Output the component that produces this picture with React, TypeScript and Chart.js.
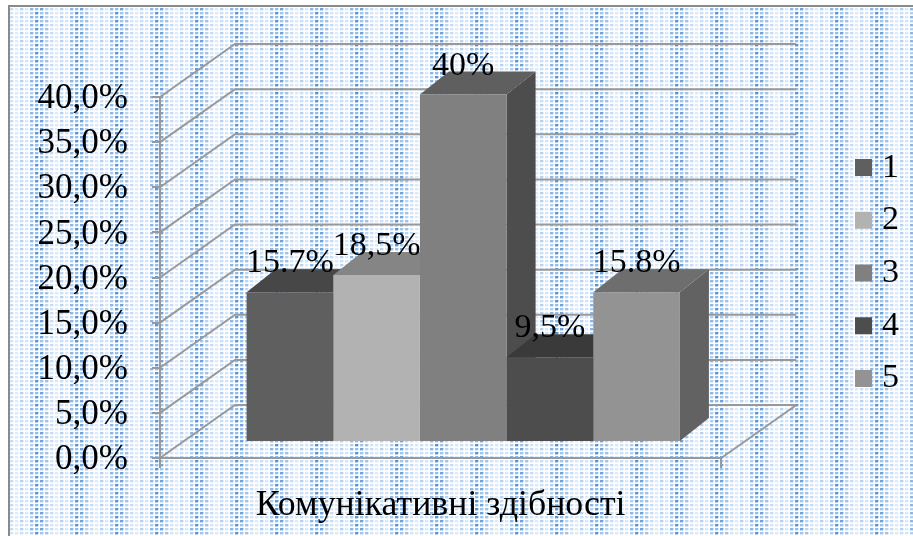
import React, { useEffect, useRef } from "react";
import { Chart, registerables } from "chart.js";

Chart.register(...registerables);

const categories = ["Комунікативні здібності"];
const seriesNames = ["1", "2", "3", "4", "5"];
const barValues = [16.6, 18.5, 38.5, 9.4, 16.6];
const dataLabels = ["15.7%", "18,5%", "40%", "9,5%", "15.8%"];
const yTickLabels = ["0,0%", "5,0%", "10,0%", "15,0%", "20,0%", "25,0%", "30,0%", "35,0%", "40,0%"];
const frontColors = ["#5f5f5f", "#b2b2b2", "#808080", "#4d4d4d", "#939393"];
const topColors = ["#474747", "#858585", "#5f5f5f", "#3a3a3a", "#6e6e6e"];
const sideColors = ["#484848", "#808080", "#4d4d4d", "#3a3a3a", "#626262"];

const FONT = '"Liberation Serif", "Times New Roman", serif';
const GRID = "#999999";
const WALL = { dx: 75, dy: -53 };
const PLANE = { dx: 22.6, dy: -16 };
const DEPTH = { dx: 29, dy: -23 };

function makeTile(): HTMLCanvasElement {
  const stripe = [0.85, 0.5, 0.2, 0.08, 0.32, 0.12, 0.62, 1];
  const tile = document.createElement("canvas");
  tile.width = 40;
  tile.height = 8;
  const c = tile.getContext("2d")!;
  c.fillStyle = "#ffffff";
  c.fillRect(0, 0, 40, 8);
  stripe.forEach((s, i) => {
    [0, 1].forEach((r) => {
      const a = Math.min(1, s * (r === (i % 2) ? 0.8 : 0.45) + 0.14);
      const rowY = r * 4;
      c.fillStyle = `rgba(74,144,217,${a})`;
      c.fillRect(i * 5, rowY, 3, 2);
      c.fillStyle = `rgba(74,144,217,${a * 0.4})`;
      c.fillRect(i * 5 + 3, rowY, 1, 2);
      c.fillRect(i * 5, rowY + 2, 3, 1);
    });
  });
  return tile;
}

function poly(ctx: CanvasRenderingContext2D, fill: string, pts: number[][]) {
  ctx.beginPath();
  pts.forEach((p, i) => (i ? ctx.lineTo(p[0], p[1]) : ctx.moveTo(p[0], p[1])));
  ctx.closePath();
  ctx.fillStyle = fill;
  ctx.fill();
}

const scene3d = {
  id: "scene3d",
  beforeDraw(chart: any) {
    const { ctx, width, height } = chart;
    ctx.save();
    ctx.fillStyle = "#ffffff";
    ctx.fillRect(0, 0, width, height);
    ctx.fillStyle = ctx.createPattern(makeTile(), "repeat");
    ctx.fillRect(8, 5, width - 8, height - 5);
    ctx.fillStyle = "#8a8a8a";
    ctx.fillRect(8, 5, width - 8, 2);
    ctx.fillRect(8, 5, 2, height - 5);
    ctx.restore();
  },
  beforeDatasetsDraw(chart: any) {
    const { ctx, chartArea: a, scales } = chart;
    const y = scales.y;
    ctx.save();
    ctx.strokeStyle = GRID;
    ctx.lineWidth = 2;
    y.ticks.forEach((t: any) => {
      const py = y.getPixelForValue(t.value);
      ctx.beginPath();
      ctx.moveTo(a.left, py);
      ctx.lineTo(a.left + WALL.dx, py + WALL.dy);
      ctx.lineTo(a.right + WALL.dx, py + WALL.dy);
      ctx.stroke();
    });
    ctx.beginPath();
    ctx.moveTo(a.right, a.bottom);
    ctx.lineTo(a.right + WALL.dx, a.bottom + WALL.dy);
    ctx.stroke();
    ctx.translate(PLANE.dx, PLANE.dy);
    seriesNames.forEach((_, i) => {
      const b = chart.getDatasetMeta(i).data[0];
      const l = b.x - b.width / 2;
      const r = b.x + b.width / 2;
      poly(ctx, sideColors[i], [
        [r, b.y],
        [r + DEPTH.dx, b.y + DEPTH.dy],
        [r + DEPTH.dx, b.base + DEPTH.dy],
        [r, b.base],
      ]);
      poly(ctx, topColors[i], [
        [l, b.y],
        [l + DEPTH.dx, b.y + DEPTH.dy],
        [r + DEPTH.dx, b.y + DEPTH.dy],
        [r, b.y],
      ]);
    });
    ctx.restore();
    ctx.save();
    ctx.translate(PLANE.dx, PLANE.dy);
  },
  afterDatasetsDraw(chart: any) {
    const { ctx } = chart;
    ctx.restore();
    ctx.save();
    ctx.fillStyle = "#000000";
    ctx.font = `34px ${FONT}`;
    ctx.textAlign = "center";
    ctx.textBaseline = "alphabetic";
    seriesNames.forEach((_, i) => {
      const b = chart.getDatasetMeta(i).data[0];
      ctx.fillText(dataLabels[i], b.x + PLANE.dx, b.y + PLANE.dy - 20);
    });
    ctx.restore();
  },
};

export default function App() {
  const ref = useRef<HTMLCanvasElement>(null);
  useEffect(() => {
    const chart = new Chart(ref.current!, {
      type: "bar",
      plugins: [scene3d],
      data: {
        labels: categories,
        datasets: seriesNames.map((name, i) => ({
          label: name,
          data: [barValues[i]],
          backgroundColor: frontColors[i],
          categoryPercentage: 0.772,
          barPercentage: 1,
          clip: false,
        })),
      } as any,
      options: {
        responsive: false,
        animation: false,
        devicePixelRatio: 1,
        layout: { padding: { top: 10, bottom: 0, left: 0, right: 4 } },
        plugins: {
          tooltip: { enabled: false },
          legend: {
            position: "right",
            labels: {
              color: "#000000",
              font: { family: FONT, size: 34 },
              boxWidth: 3,
              boxHeight: 3,
              padding: 18.7,
              generateLabels: () =>
                seriesNames.map((n, i) => ({
                  text: n,
                  fillStyle: frontColors[i],
                  strokeStyle: frontColors[i],
                  lineWidth: 14,
                  fontColor: "#000000",
                  datasetIndex: i,
                })),
            },
          },
        },
        scales: {
          x: {
            position: "bottom",
            grid: { drawOnChartArea: false, color: GRID, lineWidth: 2, tickLength: 10 },
            border: { color: GRID, width: 2 },
            ticks: {
              color: "#000000",
              font: { family: FONT, size: 35.8 },
              maxRotation: 0,
              autoSkip: false,
              padding: 16,
            },
            afterFit(s: any) {
              s.height = 78;
            },
          },
          y: {
            min: 0,
            max: 40,
            position: "left",
            grid: { drawOnChartArea: false, color: GRID, lineWidth: 2, tickLength: 8 },
            border: { color: GRID, width: 2 },
            ticks: {
              stepSize: 5,
              color: "#000000",
              font: { family: FONT, size: 35 },
              padding: 24,
              labelOffset: 2,
              callback: (_: any, i: number) => yTickLabels[i],
            },
            afterFit(s: any) {
              s.width = 160;
            },
          },
          topGap: {
            type: "linear",
            axis: "x",
            position: "top",
            grid: { display: false },
            border: { display: false },
            ticks: { display: false },
            afterFit(s: any) {
              s.height = 87;
            },
          },
          rightGap: {
            type: "linear",
            axis: "y",
            position: "right",
            grid: { display: false },
            border: { display: false },
            ticks: { display: false },
            afterFit(s: any) {
              s.width = 122;
            },
          },
        },
      } as any,
    });
    return () => chart.destroy();
  }, []);
  return (
    <canvas
      ref={ref}
      width={913}
      height={536}
      style={{ position: "absolute", left: 0, top: 0, display: "block" }}
    />
  );
}
